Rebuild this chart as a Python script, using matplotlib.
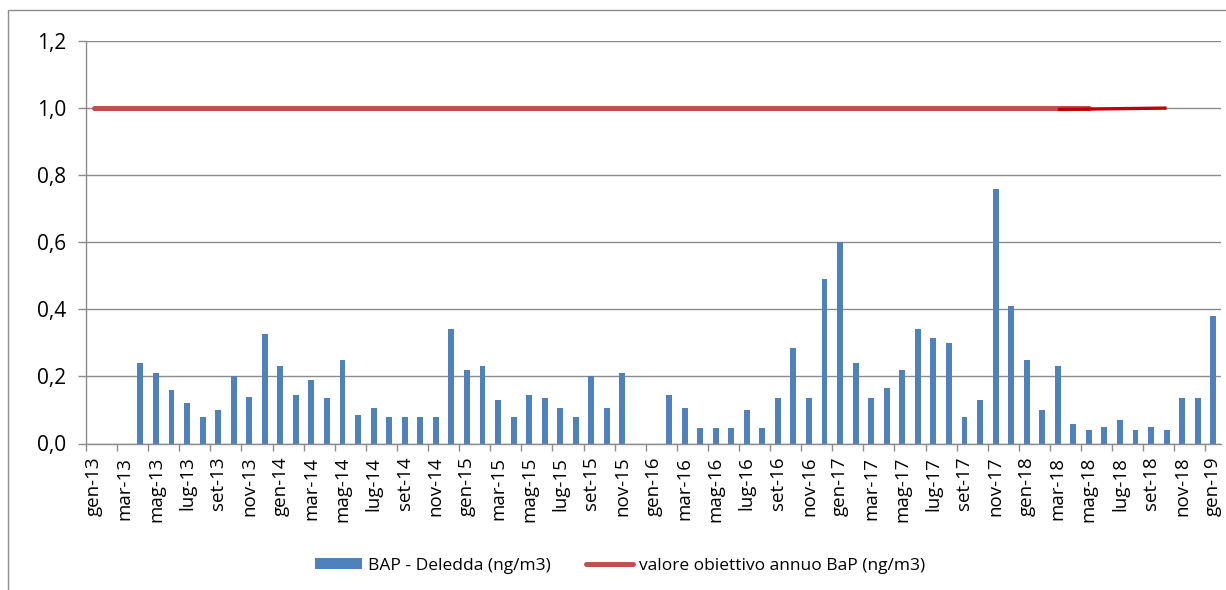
import numpy as np
import matplotlib

matplotlib.use("Agg")
import matplotlib.pyplot as plt  # noqa: E402
from matplotlib.patches import Rectangle  # noqa: E402
from matplotlib.ticker import FixedLocator, FuncFormatter  # noqa: E402

plt.rcParams["font.family"] = ["Open Sans", "DejaVu Sans"]

# ---- data (monthly, gen-13 .. gen-19) ----
MONTHS = ["gen", "feb", "mar", "apr", "mag", "giu", "lug", "ago", "set", "ott", "nov", "dic"]
labels = [f"{MONTHS[i % 12]}-{13 + i // 12}" for i in range(73)]

bap = [
    np.nan, np.nan, np.nan, 0.24, 0.21, 0.16, 0.12, 0.08, 0.10, 0.20, 0.14, 0.325,
    0.23, 0.145, 0.19, 0.135, 0.25, 0.085, 0.105, 0.08, 0.08, 0.08, 0.08, 0.34,
    0.22, 0.23, 0.13, 0.08, 0.145, 0.135, 0.105, 0.08, 0.20, 0.105, 0.21, np.nan,
    np.nan, 0.145, 0.105, 0.045, 0.045, 0.045, 0.10, 0.045, 0.135, 0.285, 0.135, 0.49,
    0.60, 0.24, 0.135, 0.165, 0.22, 0.34, 0.315, 0.30, 0.08, 0.13, 0.76, 0.41,
    0.25, 0.10, 0.23, 0.057, 0.04, 0.048, 0.07, 0.04, 0.048, 0.04, 0.135, 0.135,
    0.38,
]
target = [1.0] * 65          # valore obiettivo, gen-13 .. mag-18
target_tail_x = [62, 69]     # darker overlay segment mar-18 .. ott-18
target_tail = [0.996, 1.0]

BLUE = "#4F81BD"
RED = "#C0504D"
DARKRED = "#C00000"
GRID = "#8C8C8C"

fig = plt.figure(figsize=(12.26, 5.90), dpi=100)
fig.patch.set_facecolor("white")
ax = fig.add_axes([86 / 1226, 1 - 443.5 / 590, (1221 - 86) / 1226, (443.5 - 41) / 590])

x = np.arange(len(labels))
bars = ax.bar(x, bap, width=0.38, color=BLUE, zorder=2, label="BAP - Deledda (ng/m3)")
(line,) = ax.plot(np.arange(len(target)), target, color=RED, lw=3.6, solid_capstyle="round",
                  zorder=3, label="valore obiettivo annuo BaP (ng/m3)")
ax.plot(target_tail_x, target_tail, color=DARKRED, lw=2.4, solid_capstyle="butt", zorder=4)

ax.set_xlim(-0.5, len(labels) - 0.5)
ax.set_ylim(0, 1.2)
ax.set_yticks(np.arange(0, 1.21, 0.2))
ax.yaxis.set_major_formatter(FuncFormatter(lambda v, p: f"{v:.1f}".replace(".", ",")))
ax.grid(axis="y", color=GRID, lw=1.0, zorder=0)
ax.set_axisbelow(True)

# tick marks on every second category boundary, labels on category centres
ax.xaxis.set_major_locator(FixedLocator(np.arange(-0.5, len(labels), 2)))
ax.xaxis.set_major_formatter(FuncFormatter(lambda v, p: ""))
ax.xaxis.set_minor_locator(FixedLocator(x[::2]))
ax.xaxis.set_minor_formatter(FuncFormatter(lambda v, p: labels[int(round(v))]))
ax.tick_params(axis="x", which="major", length=5, width=1, color=GRID, direction="out")
ax.tick_params(axis="x", which="minor", length=0, pad=9.5, labelsize=13.5, labelrotation=90)
ax.tick_params(axis="y", length=5.5, width=1, color=GRID, labelsize=15, pad=9)

for s in ["top", "right"]:
    ax.spines[s].set_visible(False)
for s in ["left", "bottom"]:
    ax.spines[s].set_color(GRID)
    ax.spines[s].set_linewidth(1.0)

fig.legend([bars, line], [bars.get_label(), line.get_label()], loc="center",
           bbox_to_anchor=(620 / 1226, 1 - 566 / 590), ncol=2, frameon=False, fontsize=12.5,
           handlelength=2.7, handleheight=0.6, handletextpad=0.35, columnspacing=2.0)

# chart-area border (right and bottom edges fall outside the picture)
fig.patches.append(Rectangle((8 / 1226, -0.1), 2, 1 - 10 / 590 + 0.1, transform=fig.transFigure,
                             fill=False, ec="#8C8C8C", lw=1.0))

fig.savefig("out.png", dpi=100)
